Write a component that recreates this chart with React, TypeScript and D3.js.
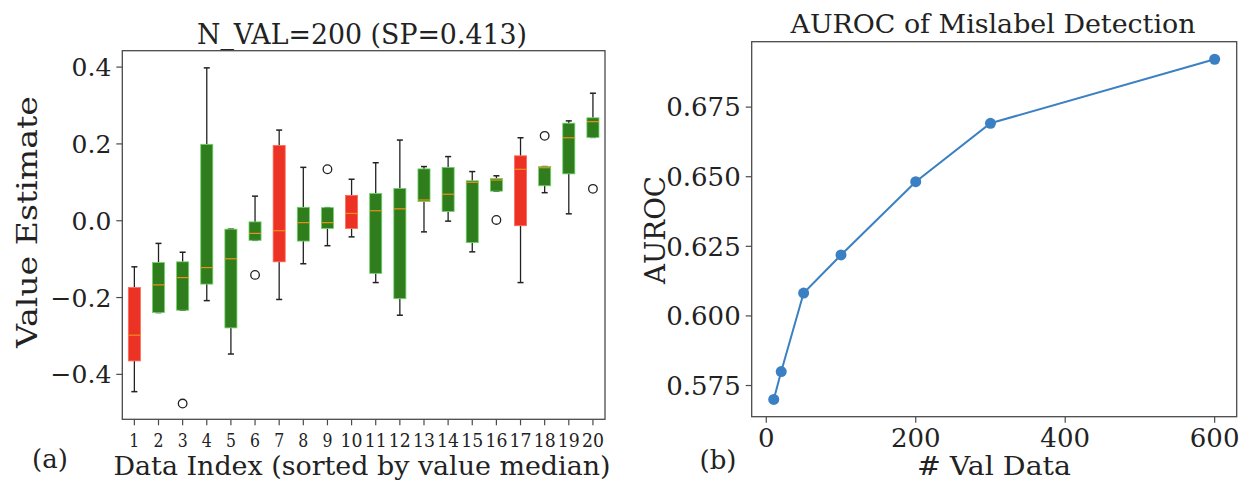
import React from "react";
import * as d3 from "d3";

// ---- Left panel data (box plot) ----
const boxIndex = [1, 2, 3, 4, 5, 6, 7, 8, 9, 10, 11, 12, 13, 14, 15, 16, 17, 18, 19, 20];
const whiskerLow = [-0.445, -0.239, -0.233, -0.208, -0.347, -0.051, -0.205, -0.112, -0.065, -0.042, -0.161, -0.246, -0.029, -0.001, -0.081, 0.077, -0.161, 0.073, 0.018, 0.217];
const q1 = [-0.365, -0.239, -0.233, -0.165, -0.279, -0.051, -0.107, -0.053, -0.02, -0.02, -0.137, -0.203, 0.05, 0.024, -0.057, 0.077, -0.013, 0.091, 0.122, 0.217];
const medians = [-0.298, -0.167, -0.148, -0.122, -0.099, -0.033, -0.026, -0.005, -0.005, 0.019, 0.026, 0.031, 0.054, 0.069, 0.1, 0.106, 0.134, 0.138, 0.216, 0.258];
const q3 = [-0.174, -0.109, -0.107, 0.199, -0.022, -0.003, 0.196, 0.035, 0.034, 0.066, 0.071, 0.084, 0.135, 0.139, 0.104, 0.11, 0.169, 0.141, 0.254, 0.268];
const whiskerHigh = [-0.12, -0.059, -0.082, 0.398, -0.022, 0.064, 0.236, 0.139, 0.034, 0.108, 0.151, 0.21, 0.141, 0.167, 0.128, 0.117, 0.216, 0.141, 0.26, 0.332];
const fliers: [number, number][] = [[3, -0.476], [6, -0.141], [9, 0.134], [16, 0.002], [18, 0.221], [20, 0.083]];
const mislabeled = [1, 7, 10, 17];
const leftYTicks = [-0.4, -0.2, 0.0, 0.2, 0.4];

// ---- Right panel data (line) ----
const valData = [10, 20, 50, 100, 200, 300, 600];
const auroc = [0.570, 0.580, 0.6082, 0.6219, 0.6482, 0.6692, 0.6922];
const rightYTicks = [0.575, 0.6, 0.625, 0.65, 0.675];
const rightXTicks = [0, 200, 400, 600];

const FONT = "'DejaVu Serif', serif";
const RED = "#ec3224";
const GREEN = "#2f7d1c";
const GREEN_EDGE = "#6fd46a";
const MEDIAN = "#f0901a";
const SPINE = "#4a4a4a";
const BLUE = "#3a80c2";

export default function App() {
  // left panel geometry
  const L = { left: 122.3, right: 605, top: 50.7, bottom: 419.3 };
  const xL = d3.scaleLinear().domain([0.5, 20.5]).range([L.left, L.right]);
  const yL = d3.scaleLinear().domain([-0.517, 0.4427]).range([L.bottom, L.top]);
  const bw = xL(0.75) - xL(0.5); // half box width 0.25 units
  const cap = bw / 2;

  // right panel geometry
  const R = { left: 751.7, right: 1236.7, top: 41.7, bottom: 416.7 };
  const xR = d3.scaleLinear().domain([-19.5, 629.5]).range([R.left, R.right]);
  const yR = d3.scaleLinear().domain([0.5638, 0.6985]).range([R.bottom, R.top]);
  const line = d3.line<number>().x((_, i) => xR(valData[i])).y((d) => yR(d));

  return (
    <svg width={1245} height={480} style={{ display: "block", position: "absolute", left: 0, top: 0 }} fontFamily={FONT}>
      <rect width={1245} height={480} fill="#fff" />
      {/* ===== Left panel ===== */}
      <text x={362} y={44} fontSize={27} textAnchor="middle" textLength={330} lengthAdjust="spacingAndGlyphs" fill="#222">N_VAL=200 (SP=0.413)</text>
      {boxIndex.map((k, i) => {
        const cx = xL(k);
        const isRed = mislabeled.includes(k);
        return (
          <g key={k}>
            <line x1={cx} x2={cx} y1={yL(q3[i])} y2={yL(whiskerHigh[i])} stroke="#222" strokeWidth={1.3} />
            <line x1={cx} x2={cx} y1={yL(q1[i])} y2={yL(whiskerLow[i])} stroke="#222" strokeWidth={1.3} />
            <line x1={cx - cap} x2={cx + cap} y1={yL(whiskerHigh[i])} y2={yL(whiskerHigh[i])} stroke="#222" strokeWidth={1.5} />
            <line x1={cx - cap} x2={cx + cap} y1={yL(whiskerLow[i])} y2={yL(whiskerLow[i])} stroke="#222" strokeWidth={1.5} />
            <rect
              x={cx - bw}
              width={2 * bw}
              y={yL(q3[i])}
              height={Math.max(1, yL(q1[i]) - yL(q3[i]))}
              fill={isRed ? RED : GREEN}
              stroke={isRed ? "#ff6a5a" : GREEN_EDGE}
              strokeWidth={0.8}
            />
            <line x1={cx - bw} x2={cx + bw} y1={yL(medians[i])} y2={yL(medians[i])} stroke={MEDIAN} strokeWidth={1.2} />
          </g>
        );
      })}
      {fliers.map(([k, v], i) => (
        <circle key={i} cx={xL(k)} cy={yL(v)} r={4.3} fill="none" stroke="#222" strokeWidth={1.3} />
      ))}
      <rect x={L.left} y={L.top} width={L.right - L.left} height={L.bottom - L.top} fill="none" stroke={SPINE} strokeWidth={1.3} />
      {leftYTicks.map((t) => (
        <g key={t}>
          <line x1={L.left - 6} x2={L.left} y1={yL(t)} y2={yL(t)} stroke={SPINE} strokeWidth={1.2} />
          <text x={L.left - 11} y={yL(t)} dy="0.36em" fontSize={25} textAnchor="end" fill="#222">
            {d3.format(".1f")(t).replace("-", "\u2212")}
          </text>
        </g>
      ))}
      {boxIndex.map((k) => (
        <g key={"xt" + k}>
          <line x1={xL(k)} x2={xL(k)} y1={L.bottom} y2={L.bottom + 6} stroke={SPINE} strokeWidth={1.2} />
          <text x={xL(k)} y={447} fontSize={18} textAnchor="middle" fill="#222"
            textLength={k >= 10 ? 22 : 10} lengthAdjust="spacingAndGlyphs">{k}</text>
        </g>
      ))}
      <text x={362} y={475} fontSize={26} textAnchor="middle" textLength={497} lengthAdjust="spacingAndGlyphs" fill="#222">Data Index (sorted by value median)</text>
      <text transform={`translate(37,222) rotate(-90)`} fontSize={27} textAnchor="middle" textLength={252} lengthAdjust="spacingAndGlyphs" fill="#222">Value Estimate</text>
      <text x={50} y={468} fontSize={26} textAnchor="middle" fill="#222">(a)</text>

      {/* ===== Right panel ===== */}
      <text x={993} y={33} fontSize={26} textAnchor="middle" textLength={405} lengthAdjust="spacingAndGlyphs" fill="#222">AUROC of Mislabel Detection</text>
      <path d={line(auroc) || ""} fill="none" stroke={BLUE} strokeWidth={2} />
      {auroc.map((v, i) => (
        <circle key={i} cx={xR(valData[i])} cy={yR(v)} r={5.5} fill={BLUE} />
      ))}
      <rect x={R.left} y={R.top} width={R.right - R.left} height={R.bottom - R.top} fill="none" stroke={SPINE} strokeWidth={1.3} />
      {rightYTicks.map((t) => (
        <g key={t}>
          <line x1={R.left - 6} x2={R.left} y1={yR(t)} y2={yR(t)} stroke={SPINE} strokeWidth={1.2} />
          <text x={R.left - 11} y={yR(t)} dy="0.36em" fontSize={26} textAnchor="end" fill="#222">{d3.format(".3f")(t)}</text>
        </g>
      ))}
      {rightXTicks.map((t) => (
        <g key={t}>
          <line x1={xR(t)} x2={xR(t)} y1={R.bottom} y2={R.bottom + 6} stroke={SPINE} strokeWidth={1.2} />
          <text x={xR(t)} y={447} fontSize={26} textAnchor="middle" fill="#222">{t}</text>
        </g>
      ))}
      <text x={994} y={475} fontSize={26} textAnchor="middle" textLength={154} lengthAdjust="spacingAndGlyphs" fill="#222"># Val Data</text>
      <text transform={`translate(665,230) rotate(-90)`} fontSize={27} textAnchor="middle" textLength={108} lengthAdjust="spacingAndGlyphs" fill="#222">AUROC</text>
      <text x={718} y={469} fontSize={26} textAnchor="middle" fill="#222">(b)</text>
    </svg>
  );
}
